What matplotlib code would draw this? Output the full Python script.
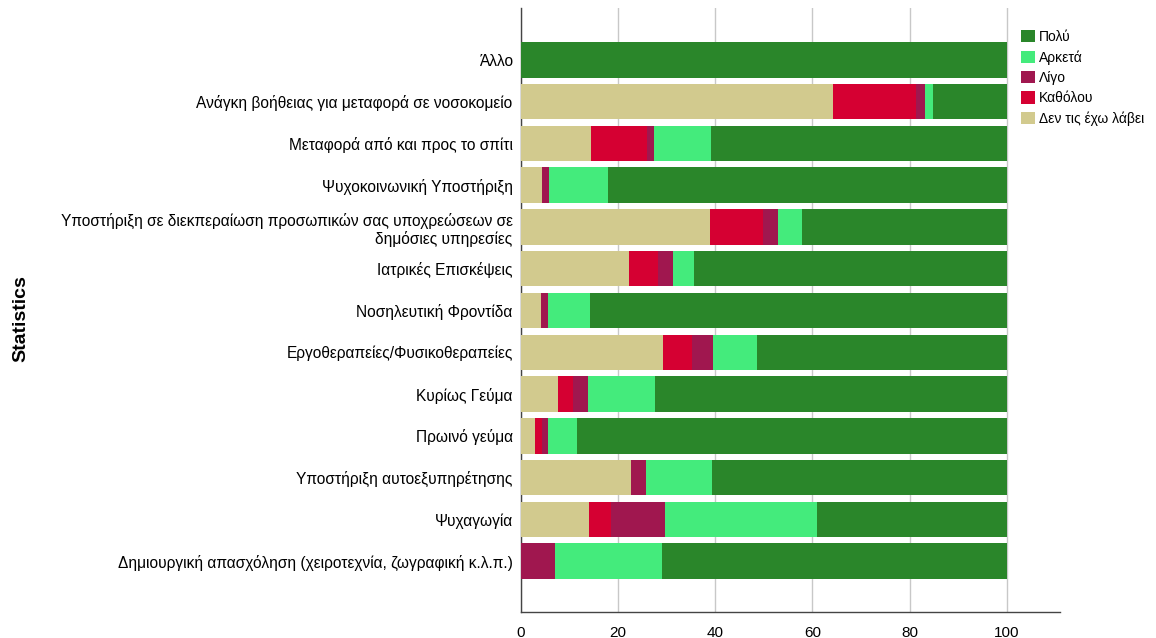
import matplotlib
matplotlib.use("Agg")
import matplotlib.pyplot as plt
from matplotlib.patches import Patch
import numpy as np

plt.rcParams['font.family'] = ['Liberation Sans', 'DejaVu Sans']

categories = [
    "Άλλο",
    "Ανάγκη βοήθειας για μεταφορά σε νοσοκομείο",
    "Μεταφορά από και προς το σπίτι",
    "Ψυχοκοινωνική Υποστήριξη",
    "Υποστήριξη σε διεκπεραίωση προσωπικών σας υποχρεώσεων σε\nδημόσιες υπηρεσίες",
    "Ιατρικές Επισκέψεις",
    "Νοσηλευτική Φροντίδα",
    "Εργοθεραπείες/Φυσικοθεραπείες",
    "Κυρίως Γεύμα",
    "Πρωινό γεύμα",
    "Υποστήριξη αυτοεξυπηρέτησης",
    "Ψυχαγωγία",
    "Δημιουργική απασχόληση (χειροτεχνία, ζωγραφική κ.λ.π.)",
]

den_tis_exo = [0, 64.3, 14.4, 4.3, 39.0, 22.3, 4.1, 29.3, 7.6, 2.8, 22.6, 14.0, 0]
katholou    = [0, 17.1, 11.5, 0, 10.9, 6.0, 0, 5.9, 3.1, 1.5, 0, 4.6, 0]
ligo        = [0, 1.7, 1.5, 1.5, 3.1, 3.0, 1.5, 4.4, 3.0, 1.3, 3.1, 11.0, 7.1]
arketa      = [0, 1.7, 11.8, 12.1, 4.9, 4.4, 8.7, 9.0, 13.9, 5.9, 13.7, 31.3, 21.9]
poly        = [100, 15.2, 60.8, 82.1, 42.1, 64.3, 85.7, 51.4, 72.4, 88.5, 60.6, 39.1, 71.0]

series_names = ["Δεν τις έχω λάβει", "Καθόλου", "Λίγο", "Αρκετά", "Πολύ"]
colors = ["#D2CA8E", "#D50032", "#A0174F", "#44EB7C", "#2A862A"]
series = [den_tis_exo, katholou, ligo, arketa, poly]
xticks = [0, 20, 40, 60, 80, 100]

fig = plt.figure(figsize=(11.56, 6.38), dpi=100)
ax = fig.add_axes([0.4507, 0.0408, 0.917 - 0.4507, 0.9875 - 0.0408])

y = np.arange(len(categories))
left = np.zeros(len(categories))
for name, vals, c in zip(series_names, series, colors):
    vals = np.array(vals, dtype=float)
    ax.barh(y, vals, left=left, height=0.85, color=c, edgecolor='none', label=name, zorder=3)
    left += vals

ax.set_ylim(len(categories) - 1 + 1.22, -1.245)
ax.set_xlim(0, 111)
ax.set_xticks(xticks)
ax.set_xticklabels([str(t) for t in xticks], fontsize=11)
ax.set_yticks(y)
ax.set_yticklabels(categories, fontsize=11.2)
ax.tick_params(axis='x', length=0, pad=10)
ax.tick_params(axis='y', length=0, pad=6)
for t in xticks:
    ax.axvline(t, color='#c8c8c8', lw=1.0, zorder=1)
for s in ['top', 'right']:
    ax.spines[s].set_visible(False)
for s in ['left', 'bottom']:
    ax.spines[s].set_color('#444444')
    ax.spines[s].set_linewidth(1.0)

fig.text(0.018, 0.5, "Statistics", rotation=90, fontsize=14, fontweight='bold',
         va='center', ha='center')

handles = [Patch(facecolor=c, edgecolor='none') for c in colors][::-1]
labels = series_names[::-1]
fig.legend(handles, labels, loc='upper left', bbox_to_anchor=(0.8785, 0.962),
           frameon=False, fontsize=10, handlelength=1.0, handleheight=1.0,
           handletextpad=0.3, labelspacing=0.45, borderaxespad=0)

fig.savefig("out.png", dpi=100, facecolor='white')
